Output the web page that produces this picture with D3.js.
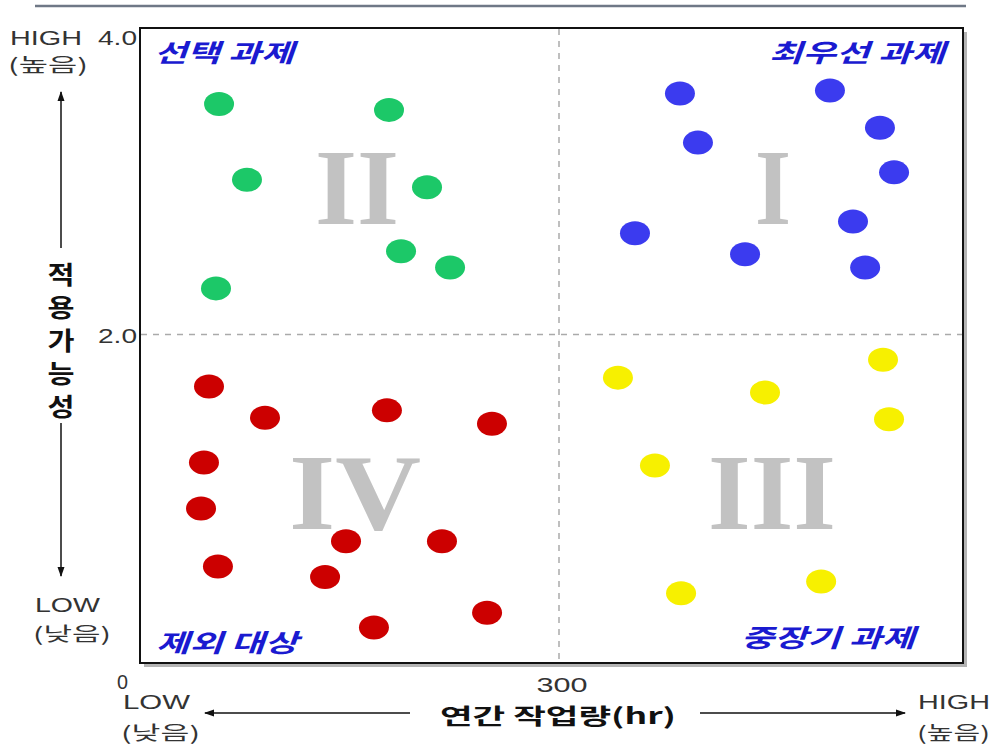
<!DOCTYPE html>
<html>
<head>
<meta charset="utf-8">
<script src="https://cdn.jsdelivr.net/npm/d3@7"></script>
<style>
  html, body { margin: 0; padding: 0; background: #fff; }
  svg { display: block; }
</style>
</head>
<body>
<svg id="chart" width="998" height="746"></svg>
<script>
// ---- data ----
const xTicks = [0, 300];
const yTicks = [2.0, 4.0];
const tickFormatY = d3.format(".1f");

// 선택 과제 (II)
const greenX = [56.6, 178.3, 76.6, 205.5, 186.9, 222.0, 54.4];
const greenY = [3.55, 3.51, 3.04, 2.99, 2.56, 2.45, 2.31];
// 최우선 과제 (I)
const blueX = [386.6, 494.0, 529.8, 399.5, 539.9, 354.4, 510.5, 433.2, 519.2];
const blueY = [3.62, 3.64, 3.39, 3.29, 3.09, 2.68, 2.76, 2.54, 2.45];
// 중장기 과제 (III)
const yellowX = [532.0, 342.2, 447.5, 536.3, 368.7, 487.7, 387.4];
const yellowY = [1.83, 1.71, 1.61, 1.43, 1.12, 0.34, 0.26];
// 제외 대상 (IV)
const redX = [49.4, 89.5, 176.8, 252.0, 45.8, 43.7, 147.5, 216.2, 55.8, 132.5, 248.5, 167.5];
const redY = [1.65, 1.44, 1.49, 1.40, 1.14, 0.83, 0.61, 0.61, 0.44, 0.37, 0.13, 0.03];

const quadrantTitles = ["최우선 과제", "선택 과제", "중장기 과제", "제외 대상"];
const quadrantNumerals = ["I", "II", "III", "IV"];
const yTitle = "적용가능성";
const xTitle = "연간 작업량(hr)";

// ---- layout ----
const svg = d3.select("#chart");
const frame = { left: 140, top: 28, right: 963, bottom: 663 };
const x = d3.scaleLinear().domain([0, 300]).range([140, 559]);
const y = d3.scaleLinear().domain([0, 4]).range([632, 37]);

const LATIN = "'Liberation Sans', Arial, sans-serif";
const KR = "'Noto Sans CJK KR', 'Liberation Sans', sans-serif";
const INK = "#333";

// text helper: width is forced with textLength so glyphs stretch to fit
function txt(g, px, py, s, o) {
  const t = g.append("text")
    .attr("x", px).attr("y", py)
    .attr("font-family", o.family || KR)
    .attr("font-size", o.size || 20)
    .attr("font-weight", o.weight || "normal")
    .attr("font-style", o.style || "normal")
    .attr("fill", o.fill || INK)
    .attr("text-anchor", o.anchor || "start")
    .text(s);
  if (o.width) t.attr("textLength", o.width).attr("lengthAdjust", "spacingAndGlyphs");
  return t;
}

// top rule
svg.append("line")
  .attr("x1", 35).attr("x2", 966).attr("y1", 6).attr("y2", 6)
  .attr("stroke", "#6f7886").attr("stroke-width", 2.5);

// frame with drop shadow
svg.append("rect")
  .attr("x", frame.left + 4).attr("y", frame.top + 4)
  .attr("width", frame.right - frame.left).attr("height", frame.bottom - frame.top)
  .attr("fill", "#b4b4b4");
svg.append("rect")
  .attr("x", frame.left).attr("y", frame.top)
  .attr("width", frame.right - frame.left).attr("height", frame.bottom - frame.top)
  .attr("fill", "#fff").attr("stroke", "#111").attr("stroke-width", 2);

// quadrant divider lines (dashed)
const plot = svg.append("g");
plot.append("line")
  .attr("x1", x(300)).attr("x2", x(300))
  .attr("y1", frame.top + 1).attr("y2", frame.bottom - 1)
  .attr("stroke", "#aaa").attr("stroke-width", 1.5).attr("stroke-dasharray", "6,6");
plot.append("line")
  .attr("x1", frame.left + 1).attr("x2", frame.right - 1)
  .attr("y1", y(2)).attr("y2", y(2))
  .attr("stroke", "#aaa").attr("stroke-width", 1.5).attr("stroke-dasharray", "6,6");

// roman numerals
const numeralPos = [[773, 224], [357, 224], [772, 529], [355, 529]];
const numeralW = [36, 84, 128, 132];
quadrantNumerals.forEach((n, i) => {
  txt(plot, numeralPos[i][0], numeralPos[i][1], n, {
    family: "'Liberation Serif', 'Times New Roman', serif",
    size: 108, weight: "bold", fill: "#c2c2c2", anchor: "middle", width: numeralW[i]
  });
});

// scatter points
const series = [
  { xs: greenX, ys: greenY, color: "#1cc868" },
  { xs: blueX, ys: blueY, color: "#3b3bef" },
  { xs: yellowX, ys: yellowY, color: "#f7f000" },
  { xs: redX, ys: redY, color: "#cc0000" }
];
series.forEach(s => {
  plot.append("g").selectAll("ellipse")
    .data(s.xs.map((v, i) => [v, s.ys[i]]))
    .join("ellipse")
    .attr("cx", d => x(d[0])).attr("cy", d => y(d[1]))
    .attr("rx", 15).attr("ry", 12)
    .attr("fill", s.color);
});

// quadrant titles
const QBLUE = "#1a1ad0";
const qOpts = { size: 25, weight: "bold", style: "italic", fill: QBLUE };
txt(plot, 945, 62, quadrantTitles[0], Object.assign({ anchor: "end", width: 176 }, qOpts));
txt(plot, 154, 62, quadrantTitles[1], Object.assign({ width: 140 }, qOpts));
txt(plot, 915, 647, quadrantTitles[2], Object.assign({ anchor: "end", width: 174 }, qOpts));
txt(plot, 156, 652, quadrantTitles[3], Object.assign({ width: 142 }, qOpts));

// y ticks
yTicks.forEach(v => {
  txt(svg, 137, y(v) + 8, tickFormatY(v), { family: LATIN, size: 21, anchor: "end", width: 39 });
});
// x ticks
const xTickLabel = [
  { anchor: "end", dx: -12, dy: 689, width: 11 },
  { anchor: "middle", dx: 3, dy: 692, width: 51 }
];
xTicks.forEach((v, i) => {
  const o = xTickLabel[i];
  txt(svg, x(v) + o.dx, o.dy, String(v), { family: LATIN, size: 20, anchor: o.anchor, width: o.width });
});

// arrowheads
const defs = svg.append("defs");
defs.append("marker")
  .attr("id", "arrow").attr("viewBox", "0 0 10 10")
  .attr("refX", 9).attr("refY", 5)
  .attr("markerWidth", 10).attr("markerHeight", 10)
  .attr("markerUnits", "userSpaceOnUse")
  .attr("orient", "auto-start-reverse")
  .append("path").attr("d", "M0,1.5 L10,5 L0,8.5 Z").attr("fill", "#111");

// y axis: HIGH / LOW and vertical title with arrows
txt(svg, 10, 45, "HIGH", { family: LATIN, size: 21, width: 72 });
txt(svg, 8, 72, "(높음)", { size: 19, width: 80 });
txt(svg, 35, 612, "LOW", { family: LATIN, size: 21, width: 65 });
txt(svg, 33, 641, "(낮음)", { size: 19, width: 78 });

svg.append("line")
  .attr("x1", 61).attr("x2", 61).attr("y1", 248).attr("y2", 92)
  .attr("stroke", "#111").attr("stroke-width", 1.5).attr("marker-end", "url(#arrow)");
svg.append("line")
  .attr("x1", 61).attr("x2", 61).attr("y1", 423).attr("y2", 576)
  .attr("stroke", "#111").attr("stroke-width", 1.5).attr("marker-end", "url(#arrow)");
const yChars = Array.from(yTitle);
const yCharY = [284, 317, 350, 383, 416];
yChars.forEach((c, i) => {
  txt(svg, 61, yCharY[i], c, { size: 25, weight: "bold", fill: "#111", anchor: "middle", width: 27 });
});

// x axis: LOW / HIGH and title with arrows
txt(svg, 123, 709, "LOW", { family: LATIN, size: 21, width: 67 });
txt(svg, 121, 740, "(낮음)", { size: 19, width: 79 });
txt(svg, 918, 709, "HIGH", { family: LATIN, size: 21, width: 72 });
txt(svg, 917, 740, "(높음)", { size: 19, width: 73 });

svg.append("line")
  .attr("x1", 410).attr("x2", 205).attr("y1", 713).attr("y2", 713)
  .attr("stroke", "#111").attr("stroke-width", 1.5).attr("marker-end", "url(#arrow)");
svg.append("line")
  .attr("x1", 700).attr("x2", 905).attr("y1", 713).attr("y2", 713)
  .attr("stroke", "#111").attr("stroke-width", 1.5).attr("marker-end", "url(#arrow)");
txt(svg, 558, 724, xTitle, { size: 22, weight: "bold", fill: "#111", anchor: "middle", width: 236 });
</script>
</body>
</html>
